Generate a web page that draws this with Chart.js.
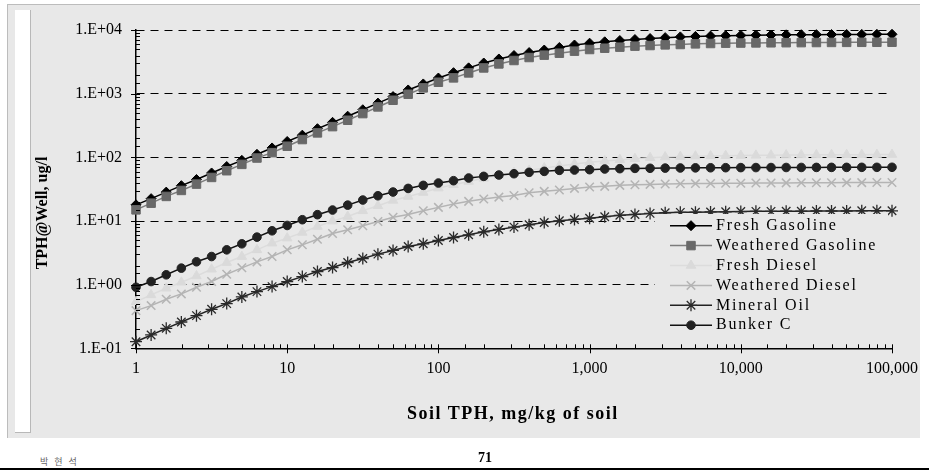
<!DOCTYPE html>
<html>
<head>
<meta charset="utf-8">
<script src="https://cdn.jsdelivr.net/npm/chart.js@4.4.1/dist/chart.umd.min.js"></script>
<style>
  html, body { margin:0; padding:0; background:#fff; width:929px; height:471px; overflow:hidden; }
  #panel { position:absolute; left:7px; top:4px; width:913px; height:434px; background:#e8e8e8;
           border-left:1px solid #bcbcbc; border-top:1px solid #bcbcbc; box-sizing:border-box; }
  #strip { position:absolute; left:15px; top:10px; width:16px; height:423px; background:#fff;
           border-right:1px solid #b8b8b8; border-bottom:1px solid #b8b8b8; box-sizing:border-box; }
  #chart { position:absolute; left:0; top:0; }
  .serif { font-family:"Liberation Serif","Times New Roman",serif; color:#000; }
  #xtitle { position:absolute; left:407px; top:404px; font-size:18px; font-weight:bold; letter-spacing:1.5px; white-space:nowrap; line-height:18px; }
  #ytitle { position:absolute; left:-18px; top:204px; width:120px; height:18px; line-height:18px; text-align:center;
            font-size:16px; font-weight:bold; transform:rotate(-90deg); white-space:nowrap; }
  #author { position:absolute; left:40px; top:457px; font-family:"Noto Sans CJK KR",sans-serif; font-size:9px; color:#666;
            line-height:10px; letter-spacing:2px; white-space:pre; }
  #page { position:absolute; left:460px; width:50px; text-align:center; top:451px; font-size:14px; font-weight:bold; line-height:14px; }
  #rule { position:absolute; left:0; top:468px; width:929px; height:2px; background:#000; }
</style>
</head>
<body>
<div id="panel"></div>
<div id="strip"></div>
<canvas id="chart" width="929" height="440"></canvas>
<div id="xtitle" class="serif">Soil TPH, mg/kg of soil</div>
<div id="ytitle" class="serif">TPH@Well, ug/l</div>
<div id="author">박 현 석</div>
<div id="page" class="serif">71</div>
<div id="rule"></div>
<script>
// ---- data ----
const xValues = [1, 1.259, 1.585, 1.995, 2.512, 3.162, 3.981, 5.012, 6.31, 7.943,
  10, 12.59, 15.85, 19.95, 25.12, 31.62, 39.81, 50.12, 63.1, 79.43,
  100, 125.9, 158.5, 199.5, 251.2, 316.2, 398.1, 501.2, 631, 794.3,
  1000, 1259, 1585, 1995, 2512, 3162, 3981, 5012, 6310, 7943,
  10000, 12589, 15849, 19953, 25119, 31623, 39811, 50119, 63096, 79433, 100000];

const freshGasoline = [18, 22.5, 28.5, 36, 45, 57, 72, 90, 112, 141,
  178, 224, 283, 356, 445, 562, 715, 905, 1150, 1430,
  1770, 2150, 2560, 3050, 3530, 4000, 4450, 4880, 5350, 5850,
  6250, 6570, 6880, 7130, 7390, 7640, 7850, 7980, 8080, 8200,
  8280, 8350, 8400, 8450, 8490, 8520, 8550, 8570, 8590, 8610, 8630];

const weatheredGasoline = [15.0, 19.1, 24.4, 30.3, 38.1, 48.5, 61.8, 77.8, 97.9, 119,
  150, 191, 243, 305, 384, 489, 622, 792, 985, 1240,
  1520, 1780, 2130, 2550, 2950, 3340, 3720, 4050, 4350, 4680,
  4970, 5210, 5410, 5610, 5740, 5880, 5960, 6100, 6180, 6250,
  6280, 6310, 6340, 6360, 6380, 6400, 6420, 6440, 6450, 6460, 6470];

const freshDiesel = [0.54, 0.69, 0.88, 1.09, 1.37, 1.75, 2.23, 2.77, 3.53, 4.49,
  5.39, 6.62, 8.22, 9.98, 11.8, 14.5, 17.4, 21.1, 24.4, 28.2,
  33.0, 37.2, 42.0, 46.9, 52.3, 57.5, 62.6, 68.2, 73.3, 78.8,
  83.7, 87.9, 92.2, 95.5, 99.1, 101.6, 103, 104.5, 105.5, 106.5,
  107.3, 108, 108.6, 109.1, 109.5, 109.9, 110.2, 110.5, 110.7, 110.9, 111];

const weatheredDiesel = [0.391, 0.469, 0.590, 0.716, 0.912, 1.12, 1.46, 1.84, 2.28, 2.77,
  3.53, 4.23, 5.19, 6.38, 7.28, 8.42, 9.86, 11.5, 12.7, 14.5,
  16.4, 18.5, 20.4, 22.2, 23.8, 25.3, 27.9, 29.3, 30.7, 32.6,
  34.2, 35.1, 36.4, 37.2, 37.7, 38.2, 38.5, 38.8, 39.0, 39.2,
  39.4, 39.6, 39.7, 39.8, 39.9, 40.0, 40.1, 40.2, 40.2, 40.3, 40.3];

const mineralOil = [0.127, 0.162, 0.206, 0.259, 0.326, 0.410, 0.504, 0.641, 0.778, 0.933,
  1.12, 1.34, 1.61, 1.86, 2.23, 2.58, 3.02, 3.45, 3.98, 4.39,
  4.95, 5.52, 6.08, 6.78, 7.38, 8.03, 8.74, 9.51, 10.1, 10.6,
  11.1, 11.7, 12.3, 12.7, 13.2, 13.5, 13.7, 13.8, 13.9, 14.0,
  14.1, 14.2, 14.2, 14.3, 14.3, 14.4, 14.4, 14.4, 14.5, 14.5, 14.5];

const bunkerC = [0.91, 1.12, 1.43, 1.82, 2.29, 2.77, 3.53, 4.39, 5.59, 7.03,
  8.53, 10.5, 12.6, 14.9, 17.8, 21.4, 25.0, 28.6, 32.6, 36.4,
  39.6, 43.1, 47.5, 50.4, 52.9, 55.5, 58.3, 60.4, 62.7, 63.4,
  64.2, 65.8, 66.6, 67.3, 67.5, 68.0, 68.3, 68.6, 68.8, 69.0,
  69.2, 69.3, 69.4, 69.5, 69.6, 69.7, 69.8, 69.8, 69.9, 69.9, 70.0];

const seriesNames = ['Fresh Gasoline', 'Weathered Gasoline', 'Fresh Diesel', 'Weathered Diesel', 'Mineral Oil', 'Bunker C'];

const xTickValues = [1, 10, 100, 1000, 10000, 100000];
const xTickLabels = ['1', '10', '100', '1,000', '10,000', '100,000'];
const yTickValues = [0.1, 1, 10, 100, 1000, 10000];
const yTickLabels = ['1.E-01', '1.E+00', '1.E+01', '1.E+02', '1.E+03', '1.E+04'];

// ---- helpers ----
const SERIF = '"Liberation Serif","Times New Roman",serif';
const findIdx = (vals, v) => vals.findIndex(t => Math.abs(t - v) / t < 1e-6);
const pts = ys => xValues.map((x, i) => ({ x: x, y: ys[i] }));

function mkSet(label, ys, opt) {
  return Object.assign({
    label: label, data: pts(ys), borderWidth: 1.5, tension: 0, clip: false,
    pointBorderWidth: 1, pointHoverRadius: 0
  }, opt);
}

const datasets = [
  mkSet(seriesNames[0], freshGasoline, { borderColor: '#000', pointStyle: 'rectRot', pointRadius: 5,
    pointBackgroundColor: '#000', pointBorderColor: '#000', order: 2 }),
  mkSet(seriesNames[1], weatheredGasoline, { borderColor: '#7c7c7c', pointStyle: 'rect', pointRadius: 6,
    pointBackgroundColor: '#686868', pointBorderColor: '#686868', order: 1 }),
  mkSet(seriesNames[2], freshDiesel, { borderColor: '#dcdcdc', pointStyle: 'triangle', pointRadius: 5.5,
    pointBackgroundColor: '#dadada', pointBorderColor: '#dadada', order: 6 }),
  mkSet(seriesNames[3], weatheredDiesel, { borderColor: '#b4b4b4', pointStyle: 'crossRot', pointRadius: 6,
    pointBackgroundColor: '#b4b4b4', pointBorderColor: '#b4b4b4', pointBorderWidth: 1.5, order: 5 }),
  mkSet(seriesNames[4], mineralOil, { borderColor: '#222', pointStyle: 'star', pointRadius: 6,
    pointBackgroundColor: '#2a2a2a', pointBorderColor: '#2a2a2a', pointBorderWidth: 1.3, order: 4 }),
  mkSet(seriesNames[5], bunkerC, { borderColor: '#111', pointStyle: 'circle', pointRadius: 4.3,
    pointBackgroundColor: '#222', pointBorderColor: '#222', order: 3 })
];

// tick marks: minor inside, major crossing the axis
const tickMarks = {
  id: 'tickMarks',
  afterDatasetsDraw(chart) {
    const ctx = chart.ctx, xs = chart.scales.x, ys = chart.scales.y;
    const { left, bottom } = chart.chartArea;
    ctx.save();
    ctx.strokeStyle = '#000';
    ctx.lineWidth = 1;
    ctx.beginPath();
    xs.ticks.forEach(t => {
      const p = Math.round(xs.getPixelForValue(t.value)) + 0.5;
      const major = findIdx(xTickValues, t.value) >= 0;
      ctx.moveTo(p, bottom - 4);
      ctx.lineTo(p, bottom + (major ? 5 : 0));
    });
    ys.ticks.forEach(t => {
      const p = Math.round(ys.getPixelForValue(t.value)) + 0.5;
      const major = findIdx(yTickValues, t.value) >= 0;
      ctx.moveTo(left - (major ? 5 : 0), p);
      ctx.lineTo(left + 4, p);
    });
    ctx.stroke();
    ctx.restore();
  }
};

// legend drawn inside the plot, on the panel colour
const insideLegend = {
  id: 'insideLegend',
  afterDraw(chart) {
    const ctx = chart.ctx;
    const boxL = 655, boxT = 214, boxW = 233, boxH = 122;
    const lineL = 670, lineR = 712, textX = 716, row0 = 225.7, rowH = 19.9;
    ctx.save();
    ctx.fillStyle = '#e8e8e8';
    ctx.fillRect(boxL, boxT, boxW, boxH);
    chart.data.datasets.forEach((ds, i) => {
      const y = row0 + i * rowH;
      ctx.strokeStyle = ds.borderColor;
      ctx.lineWidth = ds.borderWidth;
      ctx.beginPath();
      ctx.moveTo(lineL, y);
      ctx.lineTo(lineR, y);
      ctx.stroke();
      ctx.fillStyle = ds.pointBackgroundColor;
      ctx.strokeStyle = ds.pointBorderColor;
      ctx.lineWidth = ds.pointBorderWidth;
      if (Chart.helpers && Chart.helpers.drawPoint) {
        Chart.helpers.drawPoint(ctx, { pointStyle: ds.pointStyle, radius: ds.pointRadius, rotation: 0,
          borderWidth: ds.pointBorderWidth }, (lineL + lineR) / 2, y);
      }
      ctx.fillStyle = '#000';
      ctx.font = '16px ' + SERIF;
      ctx.textBaseline = 'middle';
      ctx.textAlign = 'left';
      try { ctx.letterSpacing = '1.8px'; } catch (e) {}
      ctx.fillText(ds.label, textX, y);
      try { ctx.letterSpacing = '0px'; } catch (e) {}
    });
    ctx.restore();
  }
};

new Chart(document.getElementById('chart'), {
  type: 'line',
  data: { datasets: datasets },
  plugins: [tickMarks, insideLegend],
  options: {
    responsive: false,
    animation: false,
    events: [],
    layout: { padding: { left: 0, right: 31.5, top: 30.2, bottom: 51.7 } },
    plugins: { legend: { display: false }, tooltip: { enabled: false } },
    scales: {
      x: {
        type: 'logarithmic', position: 'bottom', min: 1, max: 100000,
        afterFit: a => { a.height = 40; },
        grid: { drawOnChartArea: false, drawTicks: false },
        border: { display: true, color: '#000', width: 1.5 },
        ticks: {
          autoSkip: false, maxRotation: 0, padding: 11, color: '#000',
          font: { family: SERIF, size: 16 },
          callback: v => { const i = findIdx(xTickValues, v); return i >= 0 ? xTickLabels[i] : ''; }
        }
      },
      y: {
        type: 'logarithmic', position: 'left', min: 0.1, max: 10000,
        afterFit: a => { a.width = 136; },
        grid: {
          drawTicks: false, lineWidth: 1,
          color: c => (c.tick && findIdx(yTickValues, c.tick.value) >= 0) ? '#000' : 'rgba(0,0,0,0)'
        },
        border: { display: true, color: '#000', width: 1.5, dash: [8, 6] },
        ticks: {
          autoSkip: false, padding: 14, color: '#000',
          font: { family: SERIF, size: 16 },
          callback: v => { const i = findIdx(yTickValues, v); return i >= 0 ? yTickLabels[i] : ''; }
        }
      }
    }
  }
});
</script>
</body>
</html>
